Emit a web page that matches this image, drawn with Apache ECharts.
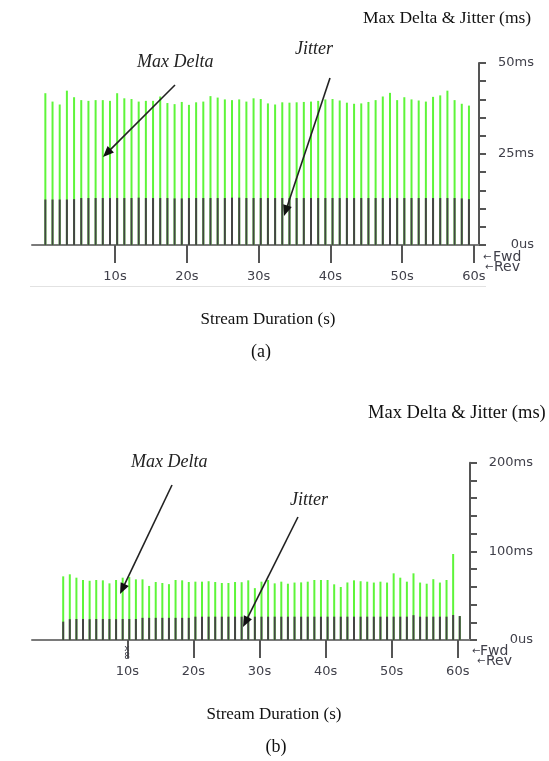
<!DOCTYPE html>
<html>
<head>
<meta charset="utf-8">
<script src="https://cdn.jsdelivr.net/npm/echarts@6/dist/echarts.min.js"></script>
<style>
html,body{margin:0;padding:0;background:#fff;}
#chart{width:549px;height:761px;}
</style>
</head>
<body>
<div id="chart"></div>
<script>
// ---- Data ----
const secondsA = [0.3,1.3,2.3,3.3,4.3,5.3,6.3,7.3,8.3,9.3,10.3,11.3,12.3,13.3,14.3,15.3,16.3,17.3,18.3,19.3,
  20.3,21.3,22.3,23.3,24.3,25.3,26.3,27.3,28.3,29.3,30.3,31.3,32.3,33.3,34.3,35.3,36.3,37.3,38.3,39.3,
  40.3,41.3,42.3,43.3,44.3,45.3,46.3,47.3,48.3,49.3,50.3,51.3,52.3,53.3,54.3,55.3,56.3,57.3,58.3,59.3];
const maxDeltaA = [41.7,39.4,38.6,42.4,40.6,39.8,39.6,39.8,39.8,39.6,
  41.7,40.3,40.1,39.4,39.6,39.6,40.8,39.0,38.7,39.3,
  38.5,39.2,39.4,40.9,40.5,40.0,39.8,40.0,39.4,40.3,
  40.1,38.9,38.6,39.2,39.1,39.2,39.3,39.4,39.6,40.0,
  40.1,39.7,39.1,38.8,38.9,39.3,39.8,40.8,41.8,39.8,
  40.6,40.0,39.7,39.4,40.7,41.1,42.4,39.8,38.8,38.3];
const jitterA = [12.5,12.5,12.5,12.5,12.6,12.9,12.9,12.9,12.9,12.9,
  12.9,12.9,12.9,13.0,12.9,12.9,12.9,12.9,12.8,12.8,
  12.9,12.9,12.9,12.9,12.9,12.9,13.0,13.0,12.9,12.9,
  12.9,12.9,12.9,12.9,12.9,12.9,12.9,12.9,12.9,12.9,
  12.9,12.9,12.9,12.9,12.9,12.9,12.9,12.9,12.9,12.9,
  12.9,12.9,12.9,12.9,12.9,12.9,12.9,12.9,12.8,12.6];

const secondsB = [0.3,1.3,2.3,3.3,4.3,5.3,6.3,7.3,8.3,9.3,10.3,11.3,12.3,13.3,14.3,15.3,16.3,17.3,18.3,19.3,
  20.3,21.3,22.3,23.3,24.3,25.3,26.3,27.3,28.3,29.3,30.3,31.3,32.3,33.3,34.3,35.3,36.3,37.3,38.3,39.3,
  40.3,41.3,42.3,43.3,44.3,45.3,46.3,47.3,48.3,49.3,50.3,51.3,52.3,53.3,54.3,55.3,56.3,57.3,58.3,59.3,60.3];
const maxDeltaB = [71.8,74.1,70.3,67.7,66.8,67.7,67.3,63.9,67.7,70.3,
  71.0,68.4,68.4,61.0,65.4,64.3,63.0,67.7,67.3,65.4,
  65.8,65.8,66.3,65.4,64.3,64.3,65.4,65.2,67.3,58.5,
  65.8,67.7,63.9,65.8,63.5,64.8,65.0,65.8,67.7,67.7,
  67.7,62.8,59.8,64.9,67.3,66.3,65.8,64.8,65.8,64.8,
  75.2,70.3,65.8,75.2,64.8,63.5,68.6,64.8,67.7,97.0,27.0];
const jitterB = [20.7,23.5,23.7,23.7,23.5,23.7,23.7,23.7,23.5,23.7,
  23.7,23.7,25.0,25.0,25.0,25.0,25.0,25.0,25.0,25.0,
  26.3,26.3,26.3,26.3,26.3,26.3,26.3,26.3,26.3,26.3,
  26.3,26.3,26.3,26.3,26.3,26.3,26.3,26.3,26.3,26.3,
  26.3,26.3,26.3,26.3,26.3,26.3,26.3,26.3,26.3,26.3,
  26.3,26.3,26.3,28.0,26.3,26.3,26.3,26.3,26.3,28.2,27.0];

const xTickValues = [10,20,30,40,50,60];
const yTicksA = [0,5,10,15,20,25,30,35,40,45,50];
const yLabelsA = [0,25,50];
const yTicksB = [0,20,40,60,80,100,120,140,160,180,200];
const yLabelsB = [0,100,200];

// ---- Styles ----
const GREEN = '#5ef53a';
const DARK = '#444444';
const AX = '#555';
const LBL = '#40404a';
const SANS = 'DejaVu Sans';
const SERIF = 'Liberation Serif';

function yFmt(v){ return v === 0 ? '0us' : v + 'ms'; }

function xAxisCfg(grid, min, max){
  return {
    gridIndex: grid, type:'value', min:min, max:max,
    axisLine:{show:true, onZero:false, lineStyle:{color:'#7a7a7a', width:2}},
    axisTick:{show:true, customValues:xTickValues, length:18, lineStyle:{color:AX, width:2}},
    axisLabel:{show:true, customValues:xTickValues, formatter:'{value}s', margin:25,
      fontFamily:SANS, fontSize:13, color:LBL},
    splitLine:{show:false}
  };
}
function yAxisCfg(grid, max, ticks, labels, margin){
  return {
    gridIndex: grid, type:'value', position:'right', min:0, max:max,
    axisLine:{show:true, onZero:false, lineStyle:{color:AX, width:2}},
    axisTick:{show:true, customValues:ticks, length:7, lineStyle:{color:AX, width:2}},
    axisLabel:{show:true, customValues:labels, formatter:yFmt, align:'right', margin:margin,
      fontFamily:SANS, fontSize:13, color:LBL},
    splitLine:{show:false}
  };
}
function barSeries(xi, xs, vals, color, z){
  return {
    type:'bar', xAxisIndex:xi, yAxisIndex:xi,
    data: xs.map((t,i)=>[t, vals[i]]),
    barWidth:2, barGap:'-100%', itemStyle:{color:color}, z:z, silent:true
  };
}
function arrow(x1,y1,x2,y2){
  const dx=x2-x1, dy=y2-y1, L=Math.hypot(dx,dy), ux=dx/L, uy=dy/L;
  const hl=11, hw=4.5;
  const bx=x2-ux*hl, by=y2-uy*hl;
  return [
    {type:'line', shape:{x1:x1,y1:y1,x2:bx+ux*2,y2:by+uy*2}, style:{stroke:'#222', lineWidth:1.6}, z:10},
    {type:'polygon', shape:{points:[[x2,y2],[bx-uy*hw,by+ux*hw],[bx+uy*hw,by-ux*hw]]}, style:{fill:'#111'}, z:10}
  ];
}
function txt(x,y,text,font,color,align){
  return {type:'text', x:x, y:y, z:10,
    style:{text:text, font:font, fill:color||'#111', align:align||'left', verticalAlign:'middle'}};
}

const graphics = [].concat(
  // chart (a)
  txt(363,18,'Max Delta & Jitter (ms)','17.5px '+SERIF,'#111'),
  txt(137,62,'Max Delta','italic 18px '+SERIF,'#222'),
  txt(295,49,'Jitter','italic 18px '+SERIF,'#222'),
  arrow(175,85,103,157),
  arrow(330,78,284,216),
  txt(483,257,'\u2190','10px '+SANS,LBL),
  txt(493,257,'Fwd','14px '+SANS,LBL),
  txt(485,267,'\u2190','10px '+SANS,LBL),
  txt(494,267,'Rev','14px '+SANS,LBL),
  [{type:'line', shape:{x1:30,y1:286.5,x2:486,y2:286.5}, style:{stroke:'#e2e2e2', lineWidth:1}}],
  txt(268,320,'Stream Duration (s)','17px '+SERIF,'#111','center'),
  txt(261,352,'(a)','18px '+SERIF,'#111','center'),
  // chart (b)
  txt(368,413,'Max Delta & Jitter (ms)','18.5px '+SERIF,'#111'),
  txt(131,462,'Max Delta','italic 18px '+SERIF,'#222'),
  txt(290,500,'Jitter','italic 18px '+SERIF,'#222'),
  arrow(172,485,120,594),
  arrow(298,517,243,627),
  txt(127,649,'x','9px '+SANS,LBL,'center'),
  txt(127,657,'8','9px '+SANS,LBL,'center'),
  txt(472,651,'\u2190','10px '+SANS,LBL),
  txt(480,651,'Fwd','14px '+SANS,LBL),
  txt(477,661,'\u2190','10px '+SANS,LBL),
  txt(486,661,'Rev','14px '+SANS,LBL),
  txt(274,715,'Stream Duration (s)','17px '+SERIF,'#111','center'),
  txt(276,747,'(b)','18px '+SERIF,'#111','center')
);

const chart = echarts.init(document.getElementById('chart'), null, {renderer:'canvas'});
chart.setOption({
  animation:false,
  backgroundColor:'#fff',
  grid:[
    {left:32, width:447, top:63, height:182},
    {left:32, width:438, top:462.7, height:177.3}
  ],
  xAxis:[ xAxisCfg(0,-1.56,60.7), xAxisCfg(1,-4.42,61.85) ],
  yAxis:[ yAxisCfg(0,50,yTicksA,yLabelsA,55), yAxisCfg(1,200,yTicksB,yLabelsB,63) ],
  series:[
    barSeries(0, secondsA, maxDeltaA, GREEN, 2),
    barSeries(0, secondsA, jitterA, DARK, 3),
    barSeries(1, secondsB, maxDeltaB, GREEN, 2),
    barSeries(1, secondsB, jitterB, DARK, 3)
  ],
  graphic: graphics
});
</script>
</body>
</html>
